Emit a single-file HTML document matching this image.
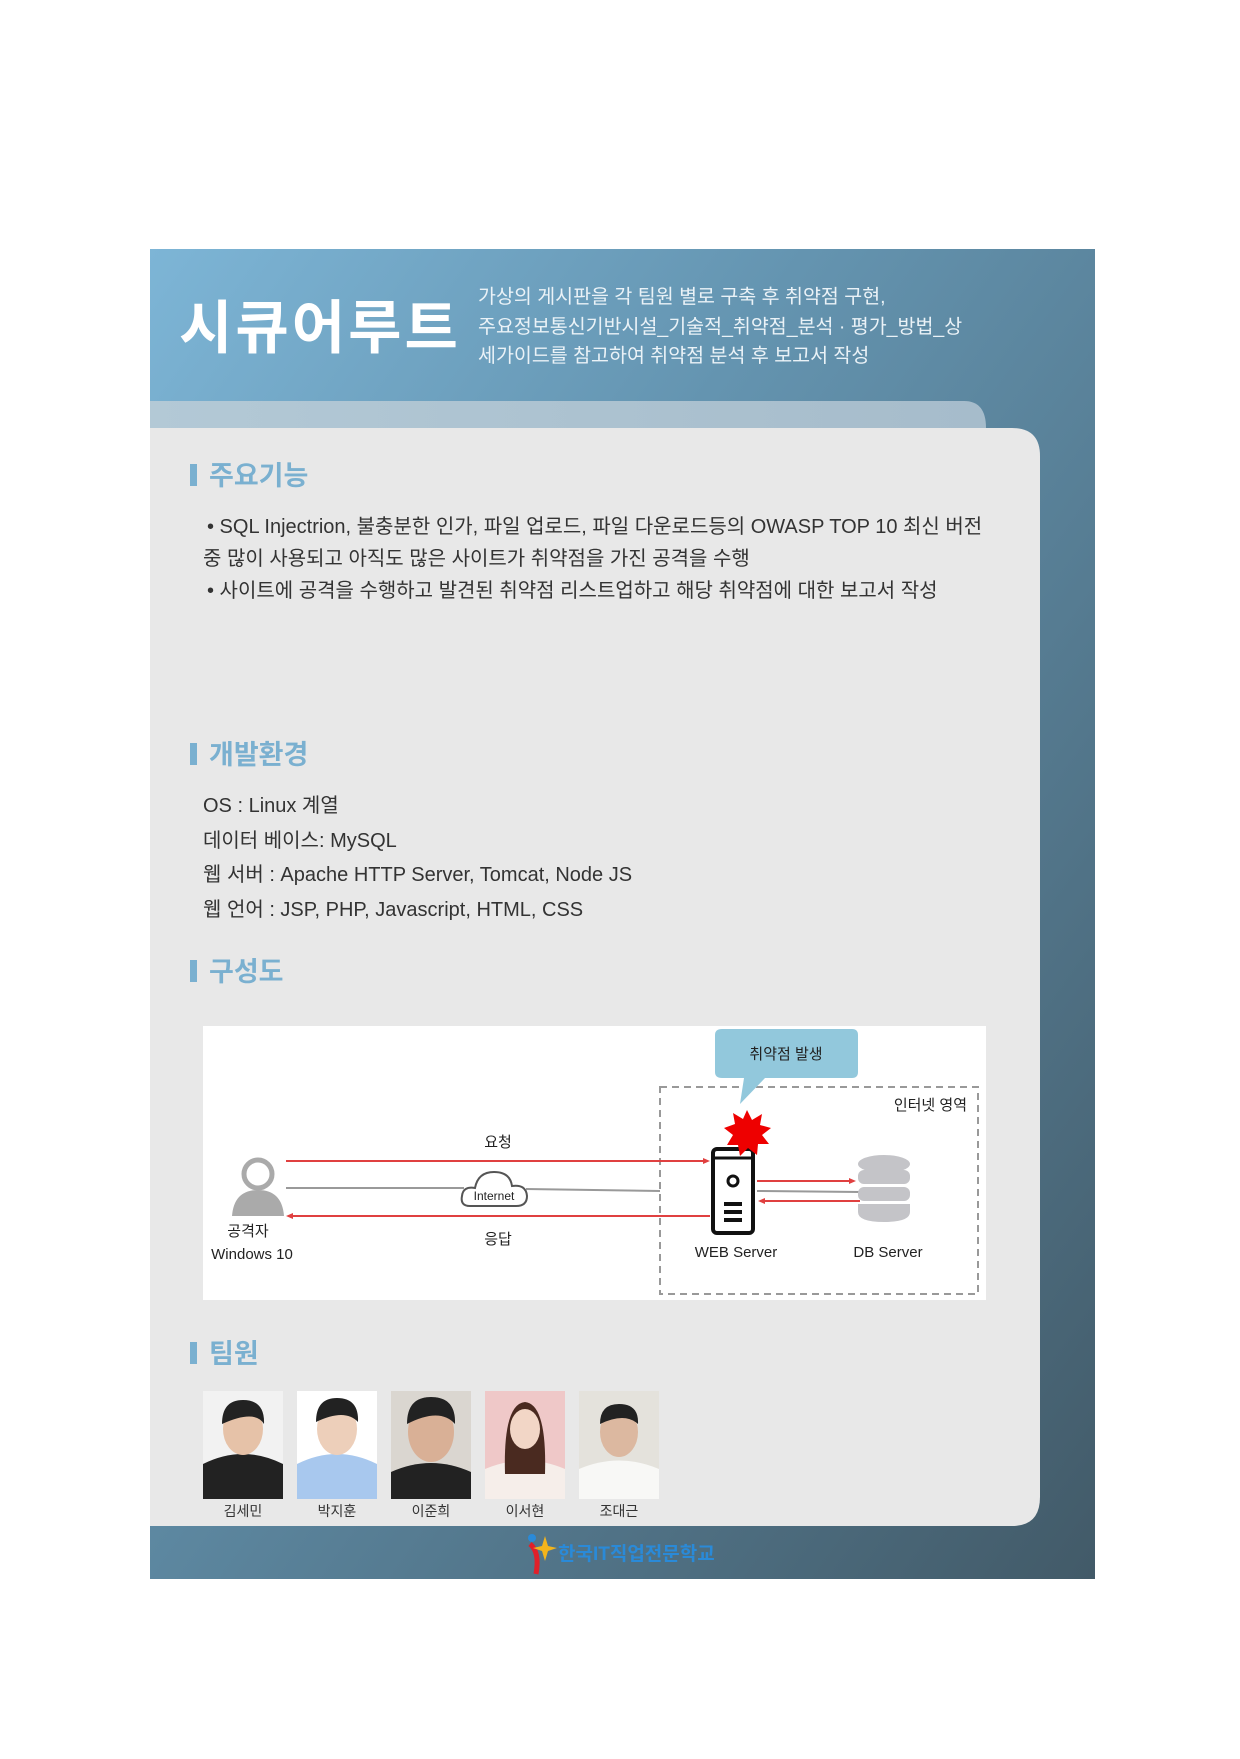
<!DOCTYPE html>
<html><head><meta charset="utf-8"><style>
body{margin:0;width:1240px;height:1754px;background:#fff;overflow:hidden;font-family:"Liberation Sans","Noto Sans CJK KR",sans-serif}
text{font-family:"Liberation Sans","Noto Sans CJK KR",sans-serif}
</style></head><body>
<svg width="1240" height="1754" viewBox="0 0 1240 1754" xmlns="http://www.w3.org/2000/svg">
<defs>
<linearGradient id="pg" x1="0" y1="0" x2="1" y2="1"><stop offset="0" stop-color="#7db5d6"/><stop offset="0.35" stop-color="#6494b0"/><stop offset="1" stop-color="#425a68"/></linearGradient>
<linearGradient id="ls" x1="0" y1="0" x2="1" y2="0"><stop offset="0" stop-color="#b3c9d6"/><stop offset="1" stop-color="#a6bccb"/></linearGradient>
</defs>
<rect x="150" y="249" width="945" height="1330" fill="url(#pg)"/>
<path d="M150 401 H964 Q986 401 986 428 V442 H150 Z" fill="url(#ls)"/>
<path d="M150 428 H1012 Q1040 428 1040 456 V1497 Q1040 1526 1012 1526 H150 Z" fill="#e8e8e8"/>
<text x="179" y="348" font-size="58" font-weight="bold" fill="#fff" letter-spacing="3">시큐어루트</text>
<g font-size="19.5" fill="#eaf2f7"><text x="478" y="303">가상의 게시판을 각 팀원 별로 구축 후 취약점 구현,</text><text x="478" y="333">주요정보통신기반시설_기술적_취약점_분석 · 평가_방법_상</text><text x="478" y="362">세가이드를 참고하여 취약점 분석 후 보고서 작성</text></g>
<g fill="#7ab0d0" font-size="27" font-weight="bold">
<rect x="190" y="464" width="7" height="22"/><text x="209" y="485">주요기능</text>
<rect x="190" y="743" width="7" height="22"/><text x="209" y="764">개발환경</text>
<rect x="190" y="960" width="7" height="22"/><text x="209" y="981">구성도</text>
<rect x="190" y="1342" width="7" height="22"/><text x="209" y="1363">팀원</text>
</g>
<g font-size="20" fill="#333">
<text x="207" y="533">• SQL Injectrion, 불충분한 인가, 파일 업로드, 파일 다운로드등의  OWASP TOP 10 최신 버전</text>
<text x="203" y="565">중 많이 사용되고 아직도 많은 사이트가 취약점을 가진 공격을 수행</text>
<text x="207" y="597">• 사이트에 공격을 수행하고 발견된 취약점 리스트업하고 해당 취약점에 대한 보고서 작성</text>
<text x="203" y="812">OS : Linux 계열</text>
<text x="203" y="847">데이터 베이스: MySQL</text>
<text x="203" y="881">웹 서버 : Apache HTTP Server, Tomcat, Node JS</text>
<text x="203" y="916">웹 언어 : JSP, PHP, Javascript, HTML, CSS</text>
</g>
<g transform="translate(0,4)">
<rect x="203" y="1022" width="783" height="274" fill="#fff"/>
<rect x="660" y="1083" width="318" height="207" fill="none" stroke="#999" stroke-width="2" stroke-dasharray="7,5"/>
<path d="M722 1025 H852 Q858 1025 858 1031 V1068 Q858 1074 852 1074 H765 L740 1100 L744 1074 H722 Q715 1074 715 1068 V1031 Q715 1025 722 1025 Z" fill="#92c8dc"/>
<text x="786" y="1055" font-size="15" text-anchor="middle" fill="#222">취약점 발생</text>
<text x="967" y="1106" font-size="15" text-anchor="end" fill="#222">인터넷 영역</text>
<line x1="286" y1="1157" x2="706" y2="1157" stroke="#e04040" stroke-width="2"/><path d="M710 1157 l-7 -3 v6z" fill="#e04040"/>
<line x1="286" y1="1184" x2="464" y2="1184" stroke="#999" stroke-width="2"/><line x1="526" y1="1185" x2="660" y2="1187" stroke="#999" stroke-width="2"/>
<line x1="290" y1="1212" x2="710" y2="1212" stroke="#e04040" stroke-width="2"/><path d="M286 1212 l7 -3 v6z" fill="#e04040"/>
<path d="M470 1202 Q460 1202 462 1192 Q463 1182 475 1184 Q478 1168 494 1168 Q510 1168 512 1182 Q526 1180 527 1192 Q527 1202 516 1202 Z" fill="#fff" stroke="#555" stroke-width="2"/>
<text x="494" y="1196" font-size="12" text-anchor="middle" fill="#222">Internet</text>
<text x="498" y="1143" font-size="15" text-anchor="middle" fill="#222">요청</text>
<text x="498" y="1240" font-size="15" text-anchor="middle" fill="#222">응답</text>
<circle cx="258" cy="1170" r="14" fill="#fff" stroke="#aaa" stroke-width="5"/>
<path d="M232 1212 Q234 1186 258 1186 Q282 1186 284 1212 Z" fill="#aaa"/>
<text x="248" y="1232" font-size="15" text-anchor="middle" fill="#222">공격자</text>
<text x="252" y="1255" font-size="15" text-anchor="middle" fill="#222">Windows 10</text>
<rect x="713" y="1145" width="40" height="84" rx="4" fill="#fff" stroke="#111" stroke-width="4"/>
<line x1="715" y1="1154" x2="751" y2="1154" stroke="#111" stroke-width="3"/>
<circle cx="733" cy="1177" r="5" fill="none" stroke="#111" stroke-width="3"/>
<g stroke="#111" stroke-width="4"><line x1="724" y1="1200" x2="742" y2="1200"/><line x1="724" y1="1208" x2="742" y2="1208"/><line x1="724" y1="1216" x2="742" y2="1216"/></g>
<polygon points="747,1106 752,1116 762,1110 760,1121 771,1124 762,1131 769,1140 758,1140 757,1151 748,1144 740,1152 738,1141 727,1141 733,1131 724,1124 735,1120 733,1109 743,1115" fill="#ee0000"/>
<line x1="757" y1="1177" x2="852" y2="1177" stroke="#e04040" stroke-width="2"/><path d="M856 1177 l-7 -3 v6z" fill="#e04040"/>
<line x1="757" y1="1187" x2="860" y2="1188" stroke="#999" stroke-width="2"/>
<line x1="762" y1="1197" x2="860" y2="1197" stroke="#e04040" stroke-width="2"/><path d="M758 1197 l7 -3 v6z" fill="#e04040"/>
<g fill="#c4c4c8"><ellipse cx="884" cy="1160" rx="26" ry="9"/><rect x="858" y="1166" width="52" height="14" rx="6"/><rect x="858" y="1183" width="52" height="14" rx="6"/><path d="M858 1200 h52 v8 q0 10 -26 10 q-26 0 -26 -10z"/></g>
<text x="736" y="1253" font-size="15" text-anchor="middle" fill="#222">WEB Server</text>
<text x="888" y="1253" font-size="15" text-anchor="middle" fill="#222">DB Server</text>
</g>
<g transform="translate(0,4)">
<rect x="203" y="1387" width="80" height="108" fill="#f2f2f2"/><path d="M203 1495 V1460 Q243 1440 283 1460 V1495Z" fill="#222"/><ellipse cx="243" cy="1425" rx="20" ry="26" fill="#e6c2a8"/><path d="M222 1420 Q222 1396 243 1396 Q265 1396 264 1420 Q255 1405 222 1420Z" fill="#222"/>
<rect x="297" y="1387" width="80" height="108" fill="#fff"/><path d="M297 1495 V1460 Q337 1440 377 1460 V1495Z" fill="#a8c8ee"/><ellipse cx="337" cy="1425" rx="20" ry="26" fill="#edcfba"/><path d="M316 1418 Q316 1394 337 1394 Q359 1394 358 1418 Q345 1404 316 1418Z" fill="#222"/>
<rect x="391" y="1387" width="80" height="108" fill="#dad6d0"/><path d="M391 1495 V1468 Q431 1450 471 1468 V1495Z" fill="#222"/><ellipse cx="431" cy="1428" rx="23" ry="30" fill="#d9b096"/><path d="M407 1420 Q407 1393 431 1393 Q456 1393 455 1420 Q440 1403 407 1420Z" fill="#222"/>
<rect x="485" y="1387" width="80" height="108" fill="#efc8c8"/><path d="M485 1495 V1465 Q525 1448 565 1465 V1495Z" fill="#f6eeea"/><path d="M505 1470 Q503 1400 525 1398 Q547 1400 545 1470Z" fill="#4a2a20"/><ellipse cx="525" cy="1425" rx="15" ry="20" fill="#f2d6c6"/>
<rect x="579" y="1387" width="80" height="108" fill="#e4e2dc"/><path d="M579 1495 V1465 Q619 1448 659 1465 V1495Z" fill="#f8f8f6"/><ellipse cx="619" cy="1428" rx="19" ry="25" fill="#dcb8a0"/><path d="M600 1420 Q600 1400 619 1400 Q639 1400 638 1420 Q625 1408 600 1420Z" fill="#222"/>
<g font-size="14" text-anchor="middle" fill="#333"><text x="243" y="1512">김세민</text><text x="337" y="1512">박지훈</text><text x="431" y="1512">이준희</text><text x="525" y="1512">이서현</text><text x="619" y="1512">조대근</text></g>
<path d="M530 1540 Q540 1548 536 1570" stroke="#e0202a" stroke-width="5" fill="none"/><circle cx="532" cy="1534" r="4" fill="#2a8ad8"/>
<polygon points="545,1532 548,1542 557,1544 548,1547 545,1557 542,1547 533,1544 542,1542" fill="#f3b41c"/>
<text x="558" y="1556" font-size="19" font-weight="bold" fill="#2a8ad8">한국IT직업전문학교</text>
</g>
</svg>
</body></html>
